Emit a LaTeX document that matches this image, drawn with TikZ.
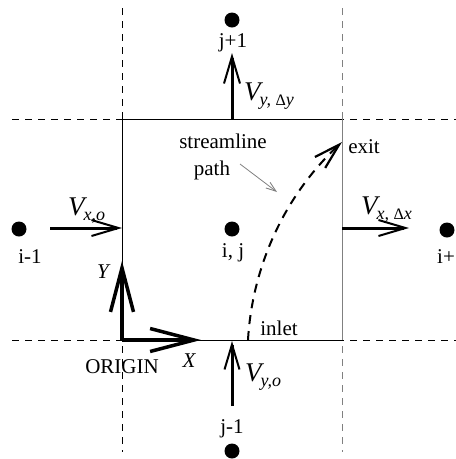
\documentclass[tikz,border=0pt]{standalone}
\usepackage{fontspec}
\setmainfont{Liberation Serif}
\usetikzlibrary{arrows.meta}
\newcommand{\vlab}[1]{{\fontsize{27}{27}\selectfont\itshape V\kern-1pt\raisebox{-5pt}{\fontsize{18}{18}\selectfont #1}}}
\newcommand{\dlt}{{\upshape\fontsize{16}{16}\selectfont Δ}}
\begin{document}
\begin{tikzpicture}[x=1pt,y=-1pt,
 txt/.style={font=\fontsize{21}{21}\selectfont, inner sep=0pt, anchor=base},
 ittxt/.style={font=\fontsize{21}{21}\selectfont\itshape, inner sep=0pt, anchor=base},
 vtxt/.style={inner sep=0pt, anchor=base west},
 dot/.style={circle, fill=black, minimum size=15pt, inner sep=0pt},
 gridline/.style={dash pattern=on 7pt off 6pt, line width=0.9pt},
 vel/.style={line width=3pt, -{Straight Barb[length=27pt,width=16pt,line width=2pt]}},
 axis/.style={line width=4pt, -{Straight Barb[length=44pt,width=23pt,line width=3.5pt]}},
]
\useasboundingbox (0,0) rectangle (456,459);
% grid
\draw[gridline] (12,119) -- (456,119);
\draw[gridline] (12,340) -- (456,340);
\draw[gridline] (122,8) -- (122,452);
\draw[gridline, gray] (342,8) -- (342,452);
% cell
\coordinate (BL) at (122,340);
\coordinate (TL) at (122,119);
\coordinate (TR) at (342,119);
\coordinate (BR) at (342,340);
\draw[line width=0.9pt] (BR) -- (BL) -- (TL) -- (TR);
\draw[line width=1pt, gray] (TR) -- (BR);
% nodes
\node[dot] (jp) at (232,20) {};
\node[dot] (im) at (19,229) {};
\node[dot] (ij) at (232,229) {};
\node[dot] (ip) at (447,230) {};
\node[dot] (jm) at (232,451) {};
\node[txt] (ljp) at (233,47) {j+1};
\node[txt] (lim) at (30,263) {i-1};
\node[txt] (lij) at (233,257) {i, j};
\node[txt, anchor=base west] (lip) at (437,263) {i+};
\node[txt] (ljm) at (232,433) {j-1};
% velocity arrows
\coordinate (vt0) at (232,119);
\coordinate (vt1) at (232,53);
\draw[vel] (vt0) -- (vt1);
\coordinate (vl0) at (50,228);
\coordinate (vl1) at (122,228);
\draw[vel] (vl0) -- (vl1);
\coordinate (vr0) at (342,228);
\coordinate (vr1) at (409,228);
\draw[vel] (vr0) -- (vr1);
\coordinate (vb0) at (232,406);
\coordinate (vb1) at (232,341);
\draw[vel, -{Straight Barb[length=25pt,width=15pt,line width=2pt]}] (vb0) -- (vb1);
\node[vtxt] (Vt) at (244,100) {\vlab{y, \dlt y}};
\node[vtxt] (Vl) at (68,215) {\vlab{x,o}};
\node[vtxt] (Vr) at (361,214) {\vlab{x, \dlt x}};
\node[vtxt] (Vb) at (245,381) {\vlab{y,o}};
% axes
\coordinate (ax) at (201,340);
\coordinate (ay) at (122,261);
\draw[axis] (BL) -- (ax);
\draw[axis] (BL) -- (ay);
\node[ittxt] (lx) at (189,367) {X};
\node[ittxt] (ly) at (103,278) {Y};
\node[txt] (lorig) at (122,373) {ORIGIN};
% streamline
\coordinate (in) at (248,340);
\coordinate (ex) at (342,142);
\draw[line width=2pt, dash pattern=on 9pt off 7pt, -{Straight Barb[length=26pt,width=15pt,line width=2.2pt]}]
  (in) .. controls (252,270) and (282,198) .. (ex);
\node[txt] (linlet) at (279,335) {inlet};
\node[txt] (lexit) at (364,153) {exit};
\node[txt] (lsl) at (223,148) {streamline};
\node[txt] (lpath) at (212,175) {path};
\coordinate (pa0) at (240,164);
\coordinate (pa1) at (277,192);
\draw[gray, line width=0.8pt, -{Straight Barb[length=10pt,width=7pt,line width=0.9pt]}] (pa0) -- (pa1);
\end{tikzpicture}
\end{document}
